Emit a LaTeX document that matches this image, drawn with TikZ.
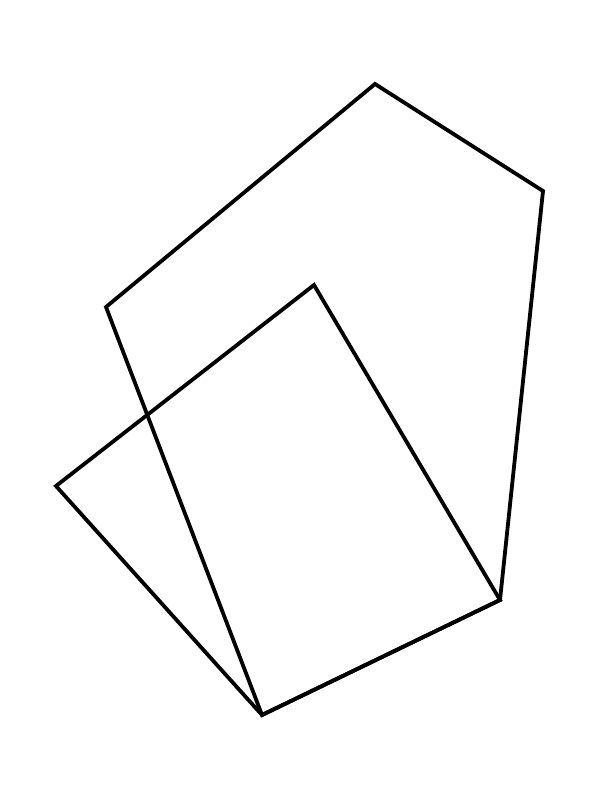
\documentclass[tikz,border=0pt]{standalone}
\usepackage{tikz}
\usetikzlibrary{calc}

\begin{document}
\begin{tikzpicture}[x=1pt,y=1pt,yscale=-1,xscale=1]
  %set diagram left start at 0, and has height of 800
  \useasboundingbox (0,0) rectangle (600,800);

  %Shape: Polygon [id:dp5185739702436614]
  \draw  [color={rgb, 255:red, 0; green, 0; blue, 0 }  ,draw opacity=1 ][line width=3.8] [line join=miter] (106,307) -- (375,84) -- (543,191) -- (500,600) -- (262,715) -- cycle ;
  %Shape: Polygon [id:dp8830614273305412]
  \draw  [color={rgb, 255:red, 0; green, 0; blue, 0 }  ,draw opacity=1 ][line width=3.8] [line join=miter] (56,486) -- (314,285) -- (500,600) -- (262,715) -- cycle ;

\end{tikzpicture}
\end{document}
